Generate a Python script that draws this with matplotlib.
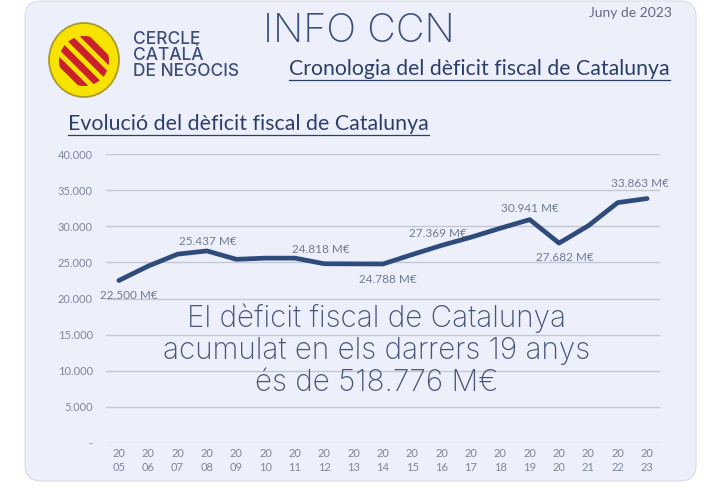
import numpy as np
import matplotlib
matplotlib.use("Agg")
import matplotlib.pyplot as plt
from matplotlib.patches import FancyBboxPatch, Ellipse, Circle

# ---------------- data ----------------
years = list(range(2005, 2024))
deficit = [22500, 24500, 26150, 26600, 25437, 25600, 25600, 24818, 24800, 24788,
           26100, 27369, 28500, 29750, 30941, 27682, 30100, 33300, 33863]
label_years = [2005, 2008, 2012, 2014, 2016, 2019, 2020, 2023]
label_texts = ["22.500 M€", "25.437 M€", "24.818 M€", "24.788 M€",
               "27.369 M€", "30.941 M€", "27.682 M€", "33.863 M€"]
y_ticks = [0, 5000, 10000, 15000, 20000, 25000, 30000, 35000, 40000]
y_tick_labels = ["-", "5.000", "10.000", "15.000", "20.000", "25.000",
                 "30.000", "35.000", "40.000"]
x_tick_labels = [f"{str(y)[:2]}\n{str(y)[2:]}" for y in years]

# label offsets (points)
label_offsets = [(7, -11), (1, 7), (-2.5, 10), (3.5, -11.5),
                 (-2.5, 8.5), (0.5, 8), (4, -10.5), (-5, 11)]

FONT = "Lato"
BIG = "Inter"
NAVY = "#2c3f6b"
LINE = "#2f4b7c"
GREY = "#7c879a"

W, H = 709, 492
fig = plt.figure(figsize=(W / 100, H / 100), dpi=100)
fig.patch.set_facecolor("white")

deco = fig.add_axes([0, 0, 1, 1], zorder=0)
deco.set_xlim(0, W)
deco.set_ylim(H, 0)
deco.axis("off")

card = FancyBboxPatch((25, 1), 671, 480, boxstyle="round,pad=0,rounding_size=16",
                      facecolor="#edf0fa", edgecolor="#d8dce6", lw=0.8)
deco.add_patch(card)

# logo
circ = Ellipse((84, 60), 70, 74, facecolor="#f7e200", edgecolor="#a89a2c", lw=1.3)
deco.add_patch(circ)
clip = Circle((84, 61), 25, transform=deco.transData)
u = np.array([1, 1]) / np.sqrt(2)
v = np.array([1, -1]) / np.sqrt(2)
for k in (-1.5, -0.5, 0.5, 1.5):
    c = np.array([84, 61]) + v * k * 12
    p0, p1 = c - u * 40, c + u * 40
    ln, = deco.plot([p0[0], p1[0]], [p0[1], p1[1]], color="#c9202c",
                    lw=7 * 0.72, solid_capstyle="butt")
    ln.set_clip_path(clip)

for txt, yy in (("CERCLE", 40), ("CATALÀ", 56), ("DE NEGOCIS", 72)):
    deco.text(133, yy, txt, fontsize=12.5, family=BIG, weight="medium", color="#3d4f78",
              ha="left", va="center")

deco.text(359, 32, "INFO CCN", fontsize=28.5, family=BIG, weight="light",
          color="#3b4f7d", ha="center", va="center")
deco.text(672, 13, "Juny de 2023", fontsize=10, family=FONT, color="#5d6a82",
          ha="right", va="center")
t1 = deco.text(670, 69, "Cronologia del dèficit fiscal de Catalunya", fontsize=15.3,
               family=FONT, color=NAVY, ha="right", va="center")
t2 = deco.text(68, 124, "Evolució del dèficit fiscal de Catalunya", fontsize=15.4,
               family=FONT, color=NAVY, ha="left", va="center")

# ---------------- chart ----------------
ax = fig.add_axes([106 / W, (H - 442.7) / H, 554 / W, (442.7 - 154.3) / H], zorder=1)
ax.set_facecolor("none")
x = np.arange(len(years))
ax.plot(x, deficit, color=LINE, lw=3.4, solid_capstyle="round", solid_joinstyle="round",
        zorder=3)
ax.set_xlim(-0.44, len(years) - 1 + 0.44)
ax.set_ylim(0, 40000)
ax.set_yticks(y_ticks)
ax.set_yticklabels(y_tick_labels)
ax.set_xticks(x)
ax.set_xticklabels(x_tick_labels, linespacing=1.25)
ax.grid(axis="y", color="#c2c8d3", lw=1.0)
ax.set_axisbelow(True)
for s in ax.spines.values():
    s.set_visible(False)
ax.tick_params(axis="y", length=0, pad=9.5, labelsize=8, labelcolor=GREY)
ax.tick_params(axis="x", length=0, pad=4, labelsize=8, labelcolor=GREY)
for lab in ax.get_xticklabels() + ax.get_yticklabels():
    lab.set_family(FONT)

for yr, txt, off in zip(label_years, label_texts, label_offsets):
    i = years.index(yr)
    ax.annotate(txt, (i, deficit[i]), xytext=off, textcoords="offset points",
                ha="center", va="center", fontsize=8.5, family=FONT, color="#6e7b90",
                zorder=4)

# big overlay text
for txt, yy in (("El dèficit fiscal de Catalunya", 318),
                ("acumulat en els darrers 19 anys", 351),
                ("és de 518.776 M€", 383)):
    fig.text(377 / W, 1 - yy / H, txt, fontsize=21.4, family=BIG, weight="light",
             color="#46567a", ha="center", va="center", zorder=5)

# underlines
fig.canvas.draw()
r = fig.canvas.get_renderer()
inv = deco.transData.inverted()
for t, off in ((t1, 11), (t2, 11)):
    bb = t.get_window_extent(r)
    (x0, _), (x1, _) = inv.transform([(bb.x0, bb.y0), (bb.x1, bb.y0)])
    yc = t.get_position()[1] + off
    deco.plot([x0, x1], [yc, yc], color=NAVY, lw=0.9)

fig.savefig("out.png", dpi=100)
